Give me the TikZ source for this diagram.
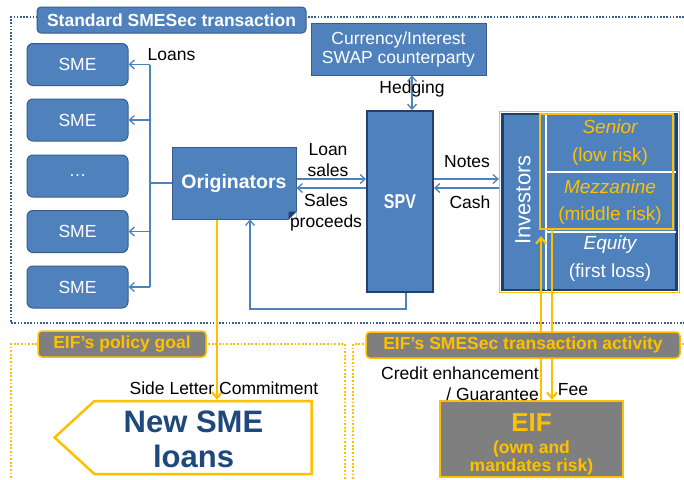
\documentclass[tikz,border=0pt]{standalone}
\usepackage{fontspec}
\setmainfont{Liberation Sans}
\usetikzlibrary{arrows.meta,shapes.symbols}
\definecolor{sxBlue}{HTML}{4F81BD}
\definecolor{sxEdge}{HTML}{385D8A}
\definecolor{sxNavy}{HTML}{213F68}
\definecolor{sxGold}{HTML}{FFC000}
\definecolor{sxGrey}{HTML}{7F7F7F}
\definecolor{sxInk}{HTML}{1F497D}

\begin{document}
\begin{tikzpicture}[x=1pt,y=-1pt,
    box/.style={draw=sxEdge,fill=sxBlue,line width=1pt,text=white,inner sep=0pt,
                font=\fontsize{17.5}{19}\selectfont},
    smebox/.style={box,rounded corners=6pt,minimum width=101pt,minimum height=42pt},
    tag/.style={rounded corners=4pt,minimum height=26pt,inner sep=0pt,
                font=\bfseries\fontsize{17.5}{20}\selectfont},
    eiftag/.style={tag,draw=sxGold,fill=sxGrey,text=sxGold,line width=1.5pt},
    flow/.style={draw=sxBlue,line width=1.3pt},
    flowto/.style={flow,-{Straight Barb[length=5pt,width=9pt]}},
    gold/.style={draw=sxGold,line width=2.2pt},
    goldto/.style={gold,-{Straight Barb[length=6pt,width=10pt]}},
    bluedots/.style={sxEdge,line width=1.6pt,dash pattern=on 1.6pt off 1.6pt},
    golddots/.style={sxGold,line width=1.6pt,dash pattern=on 1.8pt off 1.8pt},
    lbl/.style={font=\fontsize{17.5}{21}\selectfont,align=center,inner sep=0pt},
    tranche/.style={font=\fontsize{19}{21}\selectfont,inner sep=0pt}]
  \useasboundingbox (0,0) rectangle (684,479);
  \fill[white] (0,0) rectangle (684,479);

  % frames
  \draw[bluedots] (684,17) -- (11,17) -- (11,323) -- (684,323);
  \draw[golddots] (345,479) -- (345,344) -- (11,344) -- (11,479);
  \draw[golddots] (353,479) -- (353,344) -- (684,344);

  % SMEs and originators
  \foreach \i/\y/\t in {1/64.5/SME,2/120/SME,3/176/\ldots,4/231.5/SME,5/287/SME}
    \node[smebox] (sme\i) at (77.5,\y) {\t};
  \node[box,minimum width=124pt,minimum height=72pt,
        font=\bfseries\fontsize{19.5}{22}\selectfont] (orig) at (234,183) {Originators};
  \fill[white] ([xshift=-8pt]orig.south east) -- (orig.south east) -- ([yshift=8pt]orig.south east) -- cycle;
  \fill[sxNavy] ([xshift=-8pt]orig.south east) -- ([shift={(-8pt,8pt)}]orig.south east) -- ([yshift=8pt]orig.south east) -- cycle;

  \node[box,minimum width=175pt,minimum height=52pt,align=center] (swap) at (398.5,49)
    {Currency/Interest\\SWAP counterparty};
  \node[box,draw=sxNavy,line width=2pt,minimum width=66pt,minimum height=181pt] (spv) at (400,201.5)
    {\bfseries\fontsize{20}{22}\selectfont\scalebox{0.8}[1]{SPV}};

  % investors and tranches
  \node[draw=sxGold,line width=1.2pt,minimum width=180pt,minimum height=181pt] (invframe) at (589.5,202) {};
  \node[fill=sxBlue,draw=sxNavy,line width=2.5pt,minimum width=174pt,minimum height=176pt] (inv) at (589.5,202) {};
  \node[rotate=90,text=white,inner sep=0pt,font=\fontsize{22}{24}\selectfont] (invtxt) at (523,200) {Investors};
  \draw[white,line width=1.5pt] (546,114) -- (546,290);
  \draw[white,line width=1.5pt] (546,172) -- (676,172);
  \draw[white,line width=1.5pt] (546,232) -- (676,232);
  \node[draw=sxGold,line width=2.5pt,minimum width=133pt,minimum height=115pt,inner sep=0pt] (upper) at (606.5,171.5) {};
  \node[tranche,text=sxGold] (senior) at (610,127) {\itshape Senior};
  \node[tranche,text=sxGold] at (610,157) {(low risk)};
  \node[tranche,text=sxGold] (mezz) at (610,187) {\itshape Mezzanine};
  \node[tranche,text=sxGold] at (610,216) {(middle risk)};
  \node[tranche,text=white] (equity) at (610,245) {\itshape Equity};
  \node[tranche,text=white] at (610,273) {(first loss)};

  % EIF side
  \node[draw=sxGold,line width=2.5pt,fill=white,signal,signal to=west,signal pointer angle=85,
        minimum width=257pt,minimum height=73pt] (newloans) at (203,437.5) {};
  \node[text=sxInk,font=\bfseries\fontsize{31}{35}\selectfont,align=center,inner sep=0pt]
    (newtxt) at (193.5,439) {New SME\\loans};
  \node[draw=sxGold,fill=sxGrey,line width=2pt,minimum width=183pt,minimum height=76pt] (eif) at (531.5,439) {};
  \node[text=sxGold,align=center,inner sep=0pt,font=\bfseries\fontsize{17.5}{18}\selectfont]
    (eiftxt) at (531.5,444) {{\fontsize{26}{26}\selectfont EIF}\\[4pt](own and\\mandates risk)};

  % loans to the SMEs
  \coordinate (fork) at (150,183);
  \draw[flow] (orig.west) -- (fork);
  \draw[flow] (fork |- sme1.east) -- (fork |- sme5.east);
  \foreach \s in {sme1,sme2,sme4,sme5}
    \draw[flowto] (fork |- \s.east) -- (\s.east);

  % sale and notes
  \draw[flowto] ([yshift=4pt]orig.east) -- ([yshift=4pt]orig.east -| spv.west);
  \draw[flowto] ([yshift=-5pt]orig.east -| spv.west) -- ([yshift=-5pt]orig.east);
  \draw[flowto] ([yshift=4pt]orig.east -| spv.east) -- ([yshift=4pt]orig.east -| invframe.west);
  \draw[flowto] ([yshift=-5pt]orig.east -| invframe.west) -- ([yshift=-5pt]orig.east -| spv.east);
  \coordinate (hedge) at (412,0);
  \draw[flow,{Straight Barb[length=5pt,width=9pt]}-{Straight Barb[length=5pt,width=9pt]}]
    (swap.south -| hedge) -- (spv.north -| hedge);
  \draw[flowto] ([xshift=6pt]spv.south) -- ++(0,16) -| ([xshift=16pt]orig.south);

  % gold links
  \coordinate (commit) at ([xshift=-17pt]orig.south);
  \draw[goldto] (commit) -- (commit |- newloans.north);
  \coordinate (guar) at (541,236);
  \coordinate (fee) at (552,0);
  \draw[goldto] (eif.north -| guar) -- (guar);
  \draw[goldto] (upper.south -| fee) -- (eif.north -| fee);

  % labels
  \node[lbl] at (171.5,55) {Loans};
  \node[lbl] at (328,160.5) {Loan\\sales};
  \node[lbl,font=\fontsize{17.5}{21}\selectfont] at (326,212.5) {Sales\\proceeds};
  \node[lbl] at (467,162) {Notes};
  \node[lbl] at (470,202) {Cash};
  \node[lbl] at (412,89) {Hedging};
  \node[lbl] at (224,388) {Side Letter Commitment};
  \node[lbl,align=right,anchor=east] at (539,383.5) {Credit enhancement\\/ Guarantee};
  \node[lbl] at (573,390) {Fee};

  % section tags
  \node[box,tag,minimum width=269pt] (title) at (171.5,20) {Standard SMESec transaction};
  \node[eiftag,minimum width=168pt] (goaltag) at (122,344) {EIF’s policy goal};
  \node[eiftag,minimum width=314pt] (acttag) at (523,345) {EIF’s SMESec transaction activity};
\end{tikzpicture}
\end{document}
